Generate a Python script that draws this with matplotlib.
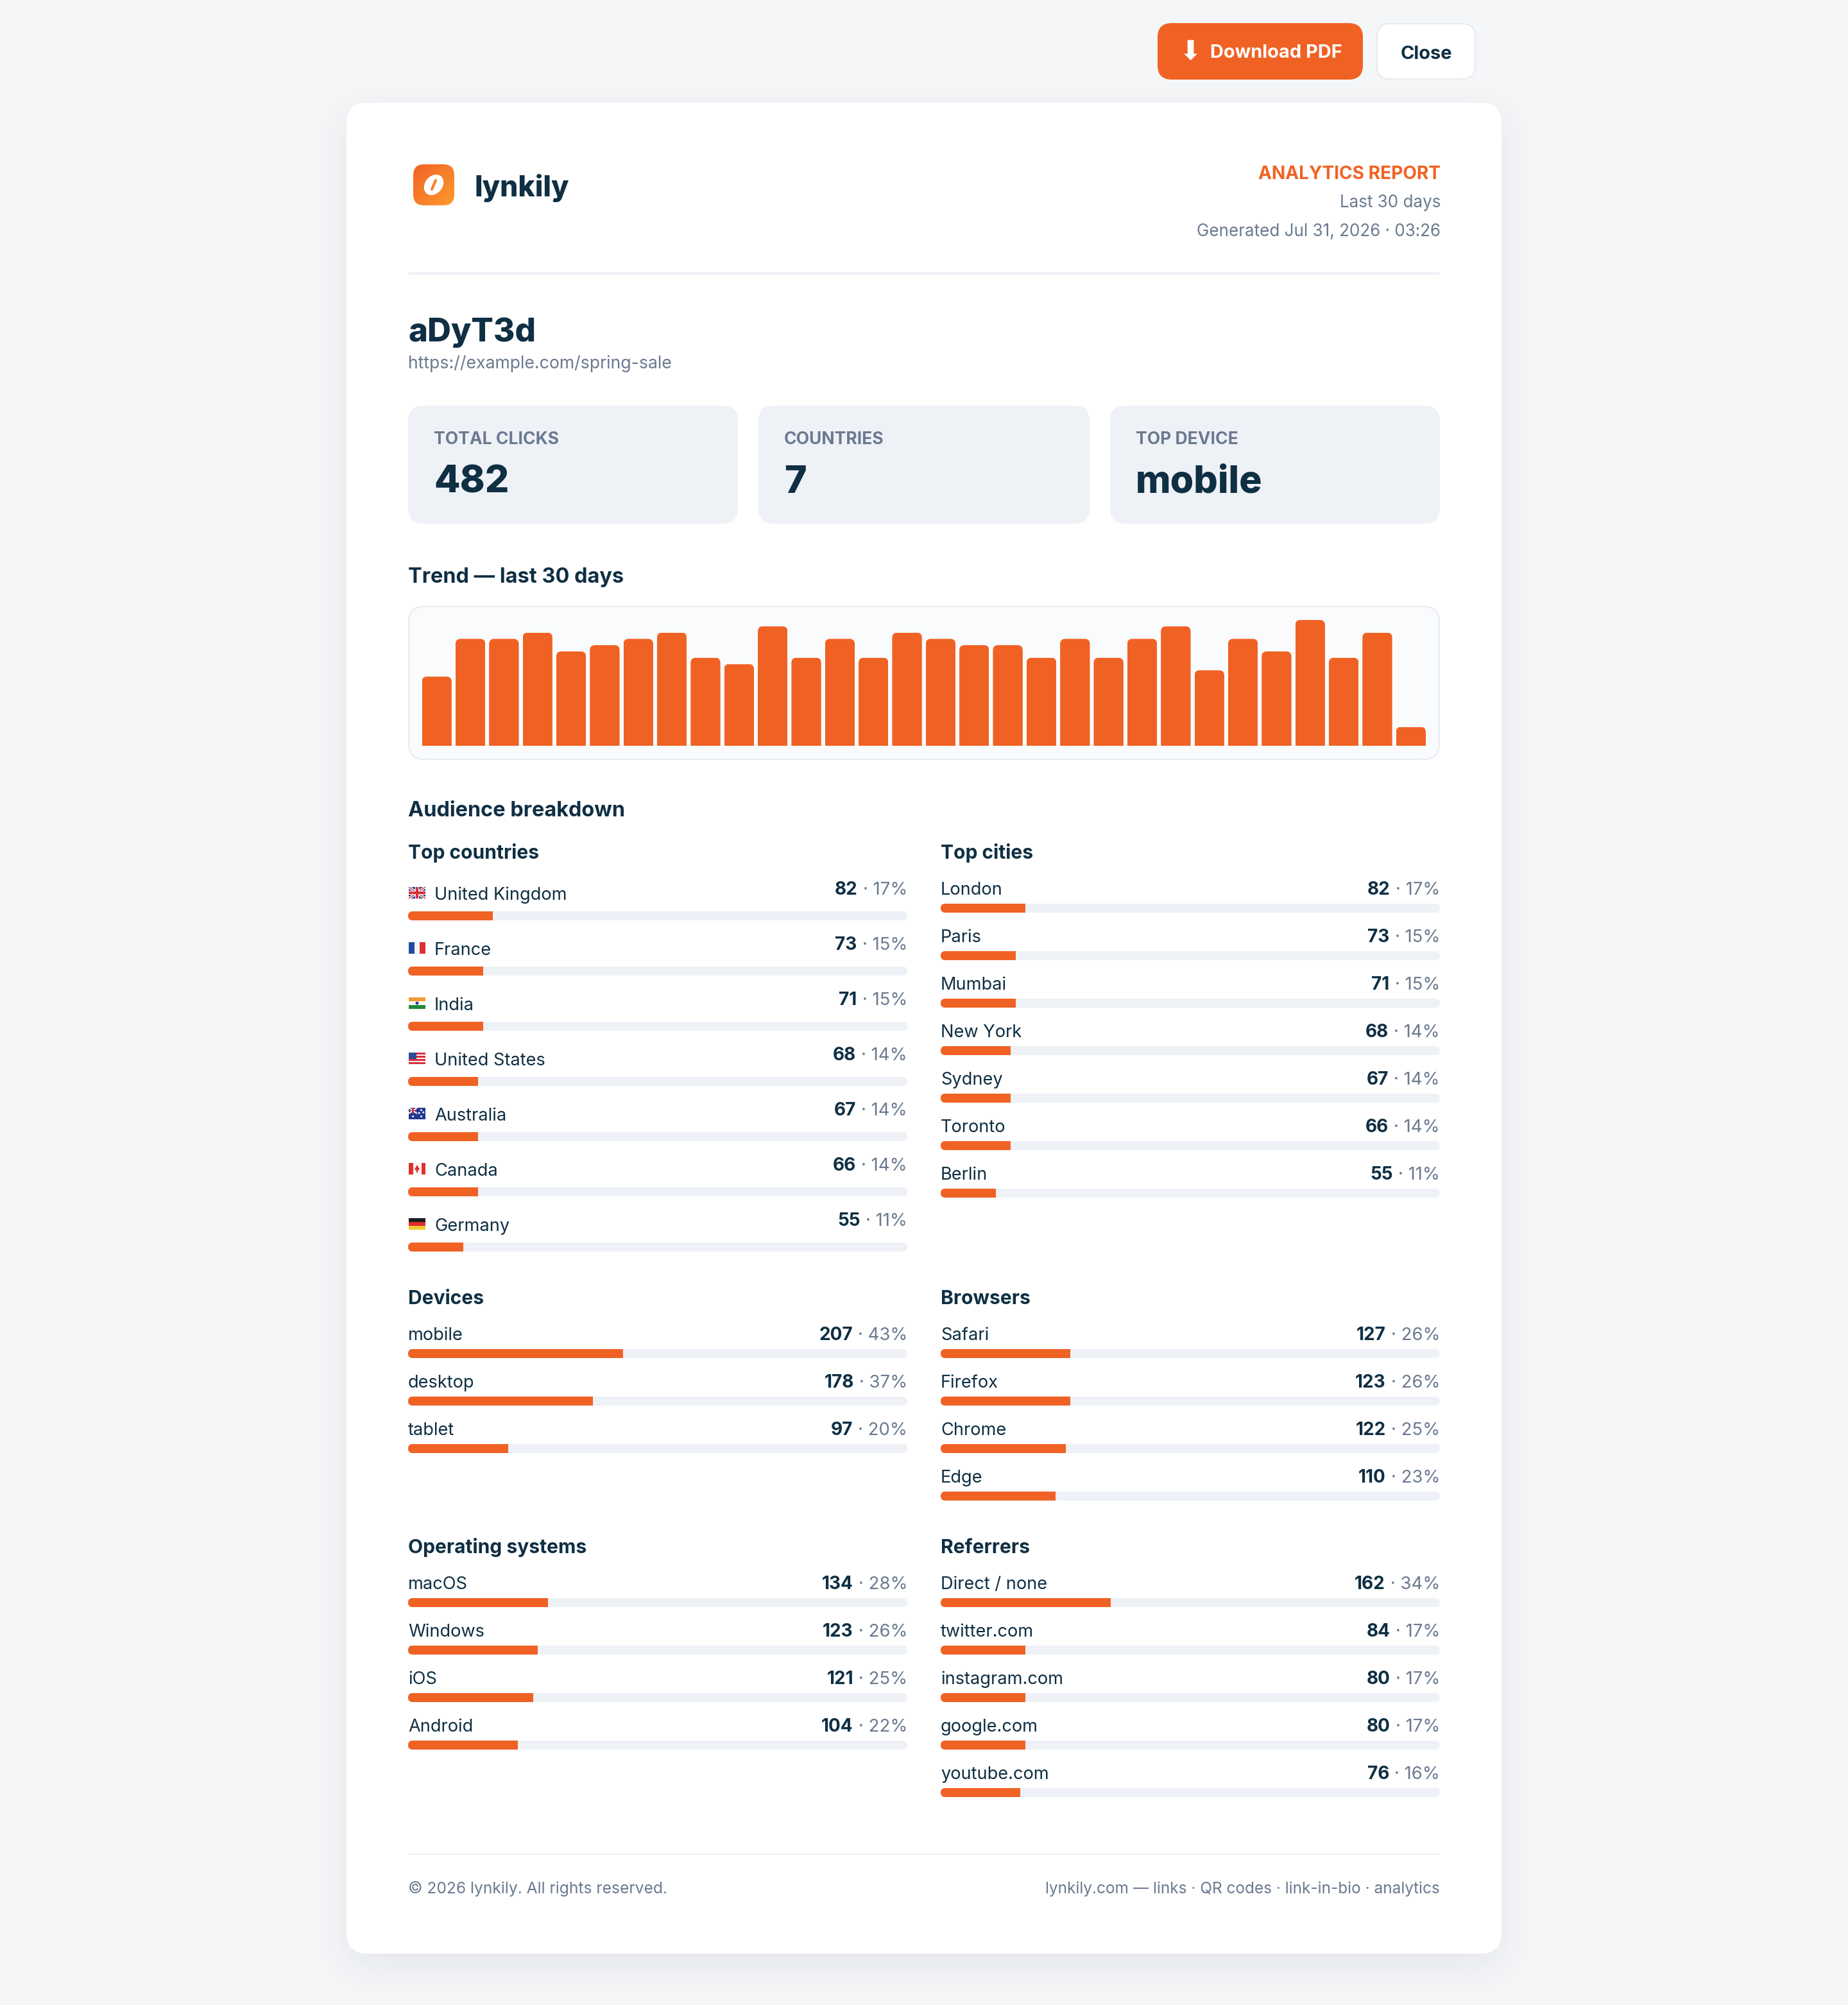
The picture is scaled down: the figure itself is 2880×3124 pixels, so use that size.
import math
import numpy as np
import matplotlib
matplotlib.use('Agg')
import matplotlib.pyplot as plt
from matplotlib.patches import FancyBboxPatch, Rectangle, Ellipse, Polygon
from matplotlib.transforms import IdentityTransform

plt.rcParams['font.family'] = ['Inter', 'DejaVu Sans']

# chart values
trend_clicks = [11, 17, 17, 18, 15, 16, 17, 18, 14, 13, 19, 14, 17, 14, 18,
                17, 16, 16, 14, 17, 14, 17, 19, 12, 17, 15, 20, 14, 18, 3]

stat_labels = ['TOTAL CLICKS', 'COUNTRIES', 'TOP DEVICE']
stat_values = ['482', '7', 'mobile']

countries = ['United Kingdom', 'France', 'India', 'United States', 'Australia', 'Canada', 'Germany']
country_flags = ['gb', 'fr', 'in', 'us', 'au', 'ca', 'de']
country_clicks = [82, 73, 71, 68, 67, 66, 55]
country_pct = [17, 15, 15, 14, 14, 14, 11]

cities = ['London', 'Paris', 'Mumbai', 'New York', 'Sydney', 'Toronto', 'Berlin']
city_clicks = [82, 73, 71, 68, 67, 66, 55]
city_pct = [17, 15, 15, 14, 14, 14, 11]

devices = ['mobile', 'desktop', 'tablet']
device_clicks = [207, 178, 97]
device_pct = [43, 37, 20]

browsers = ['Safari', 'Firefox', 'Chrome', 'Edge']
browser_clicks = [127, 123, 122, 110]
browser_pct = [26, 26, 25, 23]

systems = ['macOS', 'Windows', 'iOS', 'Android']
system_clicks = [134, 123, 121, 104]
system_pct = [28, 26, 25, 22]

referrers = ['Direct / none', 'twitter.com', 'instagram.com', 'google.com', 'youtube.com']
referrer_clicks = [162, 84, 80, 80, 76]
referrer_pct = [34, 17, 17, 17, 16]

# colours
PAGE = '#f5f6f8'
ORANGE = '#f06224'
INK = '#0f2f43'
GREY = '#6b7a90'
TRACK = '#eef1f6'

W, H = 2880, 3124
DPI = 100


def fs(px):
    return px * 72 / DPI


fig = plt.figure(figsize=(W / DPI, H / DPI), dpi=DPI, facecolor=PAGE)
bg = fig.add_axes([0, 0, 1, 1])
bg.set_xlim(0, W)
bg.set_ylim(H, 0)
bg.axis('off')


def box(x0, y0, x1, y1, r, color, edge='none', lw=0, z=2):
    p = FancyBboxPatch((x0, y0), x1 - x0, y1 - y0, boxstyle=f'round,pad=0,rounding_size={r}',
                       facecolor=color, edgecolor=edge, linewidth=fs(lw), zorder=z)
    bg.add_patch(p)
    return p


def txt(x, y, s, size, color=INK, weight='normal', ha='left', **kw):
    return bg.text(x, y, s, fontsize=fs(size), color=color, fontweight=weight, ha=ha, va='baseline', zorder=5, **kw)


def px_axes(x0, y0, x1, y1):
    ax = fig.add_axes([x0 / W, 1 - y1 / H, (x1 - x0) / W, (y1 - y0) / H])
    ax.axis('off')
    return ax


def pixel_clip(x0, y0, x1, y1, r):
    # rounded rectangle in display pixels, used to clip bars
    return FancyBboxPatch((x0, y0), x1 - x0, y1 - y0, boxstyle=f'round,pad=0,rounding_size={r}',
                          transform=IdentityTransform())


# card shadow
sig = 30
card = (540, 160, 2340, 3044)
xs = np.arange(W) + 0.5
ys = np.arange(H) + 0.5
erf = np.vectorize(math.erf)
sx = 0.5 * (erf((xs - card[0]) / (sig * 2 ** 0.5)) - erf((xs - card[2]) / (sig * 2 ** 0.5)))
sy = 0.5 * (erf((ys - card[1] - 20) / (sig * 2 ** 0.5)) - erf((ys - card[3] - 20) / (sig * 2 ** 0.5)))
shadow = np.zeros((H, W, 4))
shadow[..., :3] = matplotlib.colors.to_rgb('#0f2d41')
shadow[..., 3] = 0.08 * np.outer(sy, sx)
bg.imshow(shadow, extent=(0, W, H, 0), aspect='auto', zorder=1, interpolation='nearest')
bg.set_xlim(0, W)
bg.set_ylim(H, 0)

box(card[0], card[1], card[2], card[3], 32, 'white')

# top buttons
box(1804, 36, 2124, 124, 22, ORANGE)
box(2146, 37, 2299, 123, 20, 'white', edge='#e6ebf0', lw=2)
txt(1855, 93, '\u2b07', 42, color='white', ha='center', family='DejaVu Sans')
txt(1886, 90, 'Download PDF', 29, color='white', weight='bold')
txt(2223, 92, 'Close', 29, weight='bold', ha='center')

# logo
grad_u, grad_v = np.meshgrid(np.linspace(0, 1, 64), np.linspace(0, 1, 64))
grad_t = (grad_u + grad_v) / 2
c0 = np.array(matplotlib.colors.to_rgb('#f06224'))
c1 = np.array(matplotlib.colors.to_rgb('#ff9a2e'))
grad = c0 + (c1 - c0) * grad_t[..., None]
logo_clip = box(644, 256, 708, 320, 17, 'none', z=2)
im = bg.imshow(grad, extent=(644, 708, 320, 256), aspect='auto', zorder=3)
im.set_clip_path(logo_clip)
bg.set_xlim(0, W)
bg.set_ylim(H, 0)
bg.add_patch(Ellipse((676, 288), 35, 27, angle=-50, facecolor='white', zorder=4))
bg.plot([673, 679], [295, 281], color='#f7822a', lw=3, solid_capstyle='round', zorder=4)
txt(739, 306, 'lynkily', 44.5, weight=800)

# header right
txt(2245, 279, 'ANALYTICS REPORT', 28, color=ORANGE, weight='bold', ha='right')
txt(2245, 323, 'Last 30 days', 26, color=GREY, ha='right')
txt(2245, 368, 'Generated Jul 31, 2026 \u00b7 03:26', 26, color=GREY, ha='right')
bg.add_patch(Rectangle((636, 424), 1608, 4, facecolor=TRACK, zorder=3))

txt(636, 532, 'aDyT3d', 51, weight=800)
txt(636, 574, 'https://example.com/spring-sale', 26.7, color=GREY)

# stat cards
stat_x = [(636, 1150), (1182, 1698), (1730, 2244)]
for (x0, x1), lab, val in zip(stat_x, stat_labels, stat_values):
    box(x0, 632, x1, 816, 24, TRACK)
    txt(x0 + 40, 692, lab, 26.5, color=GREY, weight='bold')
    txt(x0 + 40, 768, val, 59, weight=800)

# trend
txt(636, 908, 'Trend \u2014 last 30 days', 32.5, weight='bold')
box(637, 945, 2243, 1183, 24, '#fafbfd', edge='#e6ebf0', lw=2)

bar_w = 46.4 / 52.4
tr = px_axes(657.5, 966, 2222, 1162)
tr.set_xlim(-bar_w / 2, len(trend_clicks) - 1 + bar_w / 2)
tr.set_ylim(0, max(trend_clicks))
bars = tr.bar(range(len(trend_clicks)), trend_clicks, width=bar_w, color=ORANGE, linewidth=0)
for b in bars:
    e = b.get_window_extent()
    b.set_clip_path(pixel_clip(e.x0, e.y0 - 20, e.x1, e.y1, 8))

txt(636, 1272, 'Audience breakdown', 32.5, weight='bold')


def draw_flag(code, x, y):
    w, h = 26, 18

    def rect(rx, ry, rw, rh, c):
        bg.add_patch(Rectangle((x + rx * w, y + ry * h), rw * w, rh * h, facecolor=c, linewidth=0, zorder=4))

    def line(a, b, c, d, col, lw):
        bg.plot([x + a * w, x + c * w], [y + b * h, y + d * h], color=col, lw=lw, solid_capstyle='butt', zorder=4)

    if code == 'gb':
        rect(0, 0, 1, 1, '#2b3f8f')
        line(0, 0, 1, 1, 'white', 3)
        line(0, 1, 1, 0, 'white', 3)
        line(0, 0, 1, 1, '#d8303c', 1)
        line(0, 1, 1, 0, '#d8303c', 1)
        rect(0.4, 0, 0.2, 1, 'white')
        rect(0, 0.35, 1, 0.3, 'white')
        rect(0.44, 0, 0.12, 1, '#d8303c')
        rect(0, 0.41, 1, 0.18, '#d8303c')
    elif code == 'fr':
        rect(0, 0, 1 / 3, 1, '#1c4da0')
        rect(1 / 3, 0, 1 / 3, 1, '#f5f5f5')
        rect(2 / 3, 0, 1 / 3, 1, '#e0302f')
    elif code == 'in':
        rect(0, 0, 1, 1 / 3, '#f49a34')
        rect(0, 1 / 3, 1, 1 / 3, '#f7f7f7')
        rect(0, 2 / 3, 1, 1 / 3, '#1f8a3a')
        bg.add_patch(Ellipse((x + w / 2, y + h / 2), 5, 5, facecolor='#2b3f8f', zorder=5))
    elif code == 'us':
        rect(0, 0, 1, 1, '#f7f7f7')
        for k in range(0, 7, 2):
            rect(0, k / 7, 1, 1 / 7, '#d8303c')
        rect(0, 0, 0.45, 4 / 7, '#2f4a9c')
    elif code == 'au':
        rect(0, 0, 1, 1, '#22378f')
        rect(0, 0, 0.5, 0.5, '#2a3f95')
        line(0, 0, 0.5, 0.5, 'white', 1.5)
        line(0, 0.5, 0.5, 0, 'white', 1.5)
        rect(0.2, 0, 0.1, 0.5, '#d8303c')
        rect(0, 0.2, 0.5, 0.1, '#d8303c')
        for sx_, sy_ in [(0.75, 0.2), (0.88, 0.4), (0.62, 0.45), (0.75, 0.75), (0.25, 0.75)]:
            bg.add_patch(Ellipse((x + sx_ * w, y + sy_ * h), 3, 3, facecolor='white', zorder=5))
    elif code == 'ca':
        rect(0, 0, 1, 1, '#f7f7f7')
        rect(0, 0, 0.25, 1, '#e0302f')
        rect(0.75, 0, 0.25, 1, '#e0302f')
        bg.add_patch(Polygon([(x + 13, y + 3), (x + 17, y + 10), (x + 14, y + 12), (x + 14, y + 15),
                              (x + 12, y + 15), (x + 12, y + 12), (x + 9, y + 10)],
                             facecolor='#e0302f', zorder=5))
    elif code == 'de':
        rect(0, 0, 1, 1 / 3, '#1d1d1d')
        rect(0, 1 / 3, 1, 1 / 3, '#dd2c2c')
        rect(0, 2 / 3, 1, 1 / 3, '#f6c92f')


def section(x0, x1, top, pitch, heading, labels, clicks, pct, flags=None):
    n = len(labels)
    value_y = top - 14
    label_y = top - 14
    head_y = top - 71
    if flags is not None:
        value_y = top - 26
        label_y = top - 18
        head_y = top - 83
    txt(x0, head_y + 1, heading, 30, weight='bold')

    # one axes per block: x is percent of clicks, y is row number
    ax = px_axes(x0, top + 7 - pitch / 2, x1, top + 7 - pitch / 2 + n * pitch)
    ax.set_xlim(0, 100)
    ax.set_ylim(n - 0.5, -0.5)
    rows = np.arange(n)
    tracks = ax.barh(rows, [100] * n, height=14 / pitch, color=TRACK, linewidth=0)
    fills = ax.barh(rows, pct, height=14 / pitch, color=ORANGE, linewidth=0)
    for t, f in zip(tracks, fills):
        e = t.get_window_extent()
        t.set_clip_path(pixel_clip(e.x0, e.y0, e.x1, e.y1, 7))
        f.set_clip_path(pixel_clip(e.x0, e.y0, e.x1, e.y1, 7))

    for i in range(n):
        dy = i * pitch
        lx = x0
        if flags is not None:
            draw_flag(flags[i], x0 + 1, top - 38 + dy)
            lx = x0 + 41
        txt(lx, label_y + dy, labels[i], 27.2)
        t_pct = txt(x1, value_y + dy, f'\u00b7 {pct[i]}%', 27.5, color=GREY, ha='right')
        wid = t_pct.get_window_extent(fig.canvas.get_renderer()).width
        txt(x1 - wid - 8, value_y + dy, str(clicks[i]), 28, weight='bold', ha='right')


LX0, LX1, RX0, RX1 = 636, 1414, 1466, 2244
section(LX0, LX1, 1420, 86, 'Top countries', countries, country_clicks, country_pct, flags=country_flags)
section(RX0, RX1, 1408, 74, 'Top cities', cities, city_clicks, city_pct)
section(LX0, LX1, 2102, 74, 'Devices', devices, device_clicks, device_pct)
section(RX0, RX1, 2102, 74, 'Browsers', browsers, browser_clicks, browser_pct)
section(LX0, LX1, 2490, 74, 'Operating systems', systems, system_clicks, system_pct)
section(RX0, RX1, 2490, 74, 'Referrers', referrers, referrer_clicks, referrer_pct)

# footer
bg.add_patch(Rectangle((636, 2888), 1608, 2, facecolor=TRACK, zorder=3))
txt(636, 2950, '\u00a9 2026 lynkily. All rights reserved.', 24.6, color=GREY)
txt(2244, 2950, 'lynkily.com \u2014 links \u00b7 QR codes \u00b7 link-in-bio \u00b7 analytics', 24.4, color=GREY, ha='right')

fig.savefig('out.png', dpi=DPI)
